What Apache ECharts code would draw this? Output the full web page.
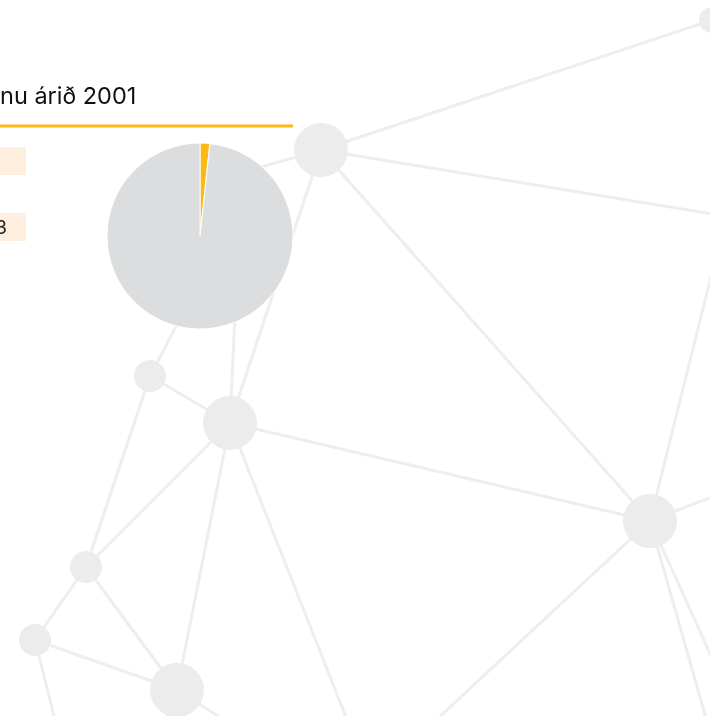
<!DOCTYPE html>
<html lang="is">
<head>
    <meta charset="UTF-8">
    <title>árið 2001</title>
    <script src="https://cdn.jsdelivr.net/npm/echarts@6/dist/echarts.min.js"></script>
    <style>
        html, body { margin: 0; padding: 0; background: #fff; }
    </style>
</head>
<body>
<div id="main" style="width: 710px; height: 716px"></div>
</body>
<script>
    // pie data
    let pieNames = ['Hlutur', 'Annað'];
    let pieValues = [1.7, 98.3];
    let pieColors = ['#fbb918', '#dcddde'];
    let labelTexts = ['1,7', '98,3'];

    // background network (page decoration), in pixel units of the hidden axes
    let nodeX = [712, 321, 150, 230, 650, 86, 35, 177, 180, 240, 780, 740, 760, 740, 715, 420, 355, 60, 240, 155];
    let nodeY = [20, 150, 376, 423, 521, 567, 640, 690, 190, 205, 225, 160, 478, 720, 750, 735, 740, 740, 730, 750];
    let nodeSize = [26, 54, 32, 54, 54, 32, 32, 54, 0, 0, 0, 0, 0, 0, 0, 0, 0, 0, 0, 0];
    let edges = [
        [1, 0], [1, 10], [1, 4], [1, 3], [1, 8],
        [9, 2], [9, 3], [2, 3], [3, 4], [3, 5], [3, 7], [3, 16],
        [2, 5], [5, 6], [5, 7], [6, 7], [6, 17], [7, 18], [7, 19],
        [4, 11], [4, 12], [4, 13], [4, 14], [4, 15]
    ];

    let nodes = [];
    for (let i = 0; i < nodeX.length; i++) {
        nodes.push({value: [nodeX[i], nodeY[i]], symbolSize: nodeSize[i]});
    }
    let links = edges.map(function (e) {
        return {source: e[0], target: e[1]};
    });

    let myChart = echarts.init(document.getElementById('main'));
    let option = {
        animation: false,
        grid: {left: 0, right: 0, top: 0, bottom: 0},
        xAxis: {type: 'value', min: 0, max: 710, show: false},
        yAxis: {type: 'value', min: 0, max: 716, inverse: true, show: false},
        graphic: [
            {   // title, cut at the left edge
                type: 'text',
                x: 0,
                y: 97,
                style: {
                    text: 'nu árið 2001',
                    font: '400 23.5px Inter, "Noto Sans", sans-serif',
                    fill: '#111',
                    textVerticalAlign: 'middle'
                }
            },
            {
                type: 'rect',
                shape: {x: 0, y: 124.5, width: 293, height: 3},
                style: {fill: '#fbb918'}
            },
            {
                type: 'rect',
                shape: {x: 0, y: 147, width: 26, height: 28},
                style: {fill: '#fdeedd'}
            },
            {
                type: 'text',
                x: -4, y: 161,
                style: {
                    text: labelTexts[0], font: '19px Inter, sans-serif', fill: '#222',
                    textAlign: 'right', textVerticalAlign: 'middle'
                }
            },
            {
                type: 'rect',
                shape: {x: 0, y: 213, width: 26, height: 28},
                style: {fill: '#fdeedd'}
            },
            {
                type: 'text',
                x: 7, y: 228,
                style: {
                    text: labelTexts[1], font: '19px Inter, sans-serif', fill: '#222',
                    textAlign: 'right', textVerticalAlign: 'middle'
                }
            }
        ],
        series: [
            {
                type: 'graph',
                coordinateSystem: 'cartesian2d',
                layout: 'none',
                silent: true,
                symbol: 'circle',
                data: nodes,
                links: links,
                itemStyle: {color: '#ececec'},
                lineStyle: {color: '#eeeeee', width: 3, opacity: 1, curveness: 0},
                label: {show: false},
                z: 1
            },
            {
                type: 'pie',
                center: [200, 236],
                radius: 93,
                startAngle: 90,
                clockwise: true,
                silent: true,
                label: {show: false},
                labelLine: {show: false},
                itemStyle: {borderColor: '#fff', borderWidth: 1},
                data: pieNames.map(function (n, i) {
                    return {name: n, value: pieValues[i], itemStyle: {color: pieColors[i]}};
                }),
                z: 3
            }
        ]
    };
    myChart.setOption(option);
</script>
</html>
